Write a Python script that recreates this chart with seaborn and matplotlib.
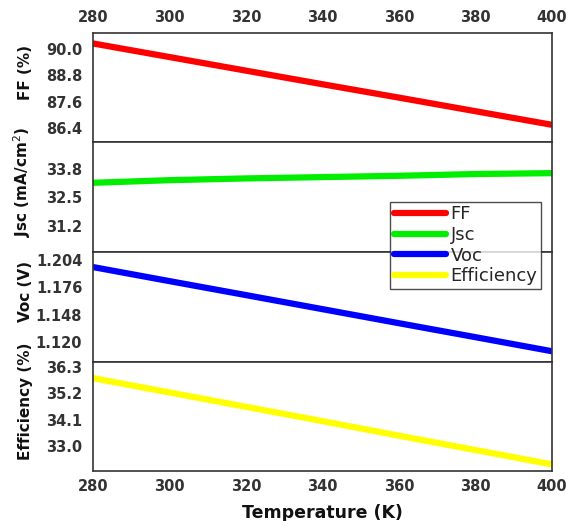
import matplotlib
matplotlib.use("Agg")
import matplotlib.pyplot as plt
import seaborn as sns
import pandas as pd
from matplotlib.lines import Line2D

temperature = [280, 300, 320, 340, 360, 380, 400]
ff = [90.26, 89.64, 89.02, 88.40, 87.79, 87.17, 86.55]
jsc = [33.16, 33.28, 33.36, 33.42, 33.48, 33.56, 33.60]
voc = [1.1964, 1.1821, 1.1679, 1.1536, 1.1393, 1.1251, 1.1108]
eff = [35.84, 35.24, 34.64, 34.04, 33.43, 32.83, 32.23]

x_ticks = [280, 300, 320, 340, 360, 380, 400]
ff_ticks = [86.4, 87.6, 88.8, 90.0]
jsc_ticks = [31.2, 32.5, 33.8]
voc_ticks = [1.120, 1.148, 1.176, 1.204]
eff_ticks = [33.0, 34.1, 35.2, 36.3]

sns.set_style("white")
plt.rcParams['font.family'] = ['DejaVu Sans']

df = pd.DataFrame({"T": temperature, "FF": ff, "Jsc": jsc, "Voc": voc, "Eff": eff})

fig = plt.figure(figsize=(5.73, 5.21), dpi=100)
left, width = 93.3 / 573, 458.4 / 573
top_px, bot_px = 33, 471
h_px = (bot_px - top_px) / 4

panels = [
    ("FF", "#ff0000", "FF (%)", (85.74, 90.74), ff_ticks, "{:.1f}"),
    ("Jsc", "#00ee00", "Jsc (mA/cm$^2$)", (30.0, 35.0), jsc_ticks, "{:.1f}"),
    ("Voc", "#0000ff", "Voc (V)", (1.1003, 1.2118), voc_ticks, "{:.3f}"),
    ("Eff", "#ffff00", "Efficiency (%)", (31.95, 36.54), eff_ticks, "{:.1f}"),
]
labels = ["FF", "Jsc", "Voc", "Efficiency"]
tick_kw = dict(fontsize=10.5, fontweight="bold", color="#333333")
for i, (col, color, ylab, ylim, yt, fmt) in enumerate(panels):
    y0 = 1 - (top_px + (i + 1) * h_px) / 521
    ax = fig.add_axes([left, y0, width, h_px / 521])
    sns.lineplot(data=df, x="T", y=col, color=color, linewidth=4.5, ax=ax)
    ax.set_xlim(280, 400)
    ax.set_ylim(*ylim)
    ax.set_yticks(yt)
    ax.set_yticklabels([fmt.format(v) for v in yt], **tick_kw)
    ax.set_xticks(x_ticks)
    ax.tick_params(axis="both", length=0)
    ax.tick_params(axis="y", pad=8)
    ax.set_ylabel(ylab, fontsize=11, fontweight="bold", color="#111111")
    ax.yaxis.set_label_coords(-0.132, 0.64)
    ax.set_xlabel("")
    for s in ax.spines.values():
        s.set_color("#333333")
        s.set_linewidth(1.2)
    if i == 0:
        ax.xaxis.tick_top()
        ax.set_xticklabels([str(v) for v in x_ticks], **tick_kw)
        ax.tick_params(axis="x", pad=6)
    elif i == 3:
        ax.set_xticklabels([str(v) for v in x_ticks], **tick_kw)
        ax.tick_params(axis="x", pad=6)
        ax.set_xlabel("Temperature (K)", fontsize=12.5, fontweight="bold", color="#111111", labelpad=7)
    else:
        ax.set_xticklabels([])

handles = [Line2D([0], [0], color=p[1], linewidth=4.5) for p in panels]
leg = fig.legend(handles, labels, loc="upper left",
                 bbox_to_anchor=(390 / 573, 1 - 201.7 / 521),
                 frameon=True, fancybox=False, fontsize=13,
                 handlelength=2.9, handletextpad=0.25, labelspacing=0.15,
                 borderpad=0.2, borderaxespad=0)
leg.get_frame().set_edgecolor("#222222")
leg.get_frame().set_linewidth(1.0)

fig.savefig("out.png", dpi=100)
